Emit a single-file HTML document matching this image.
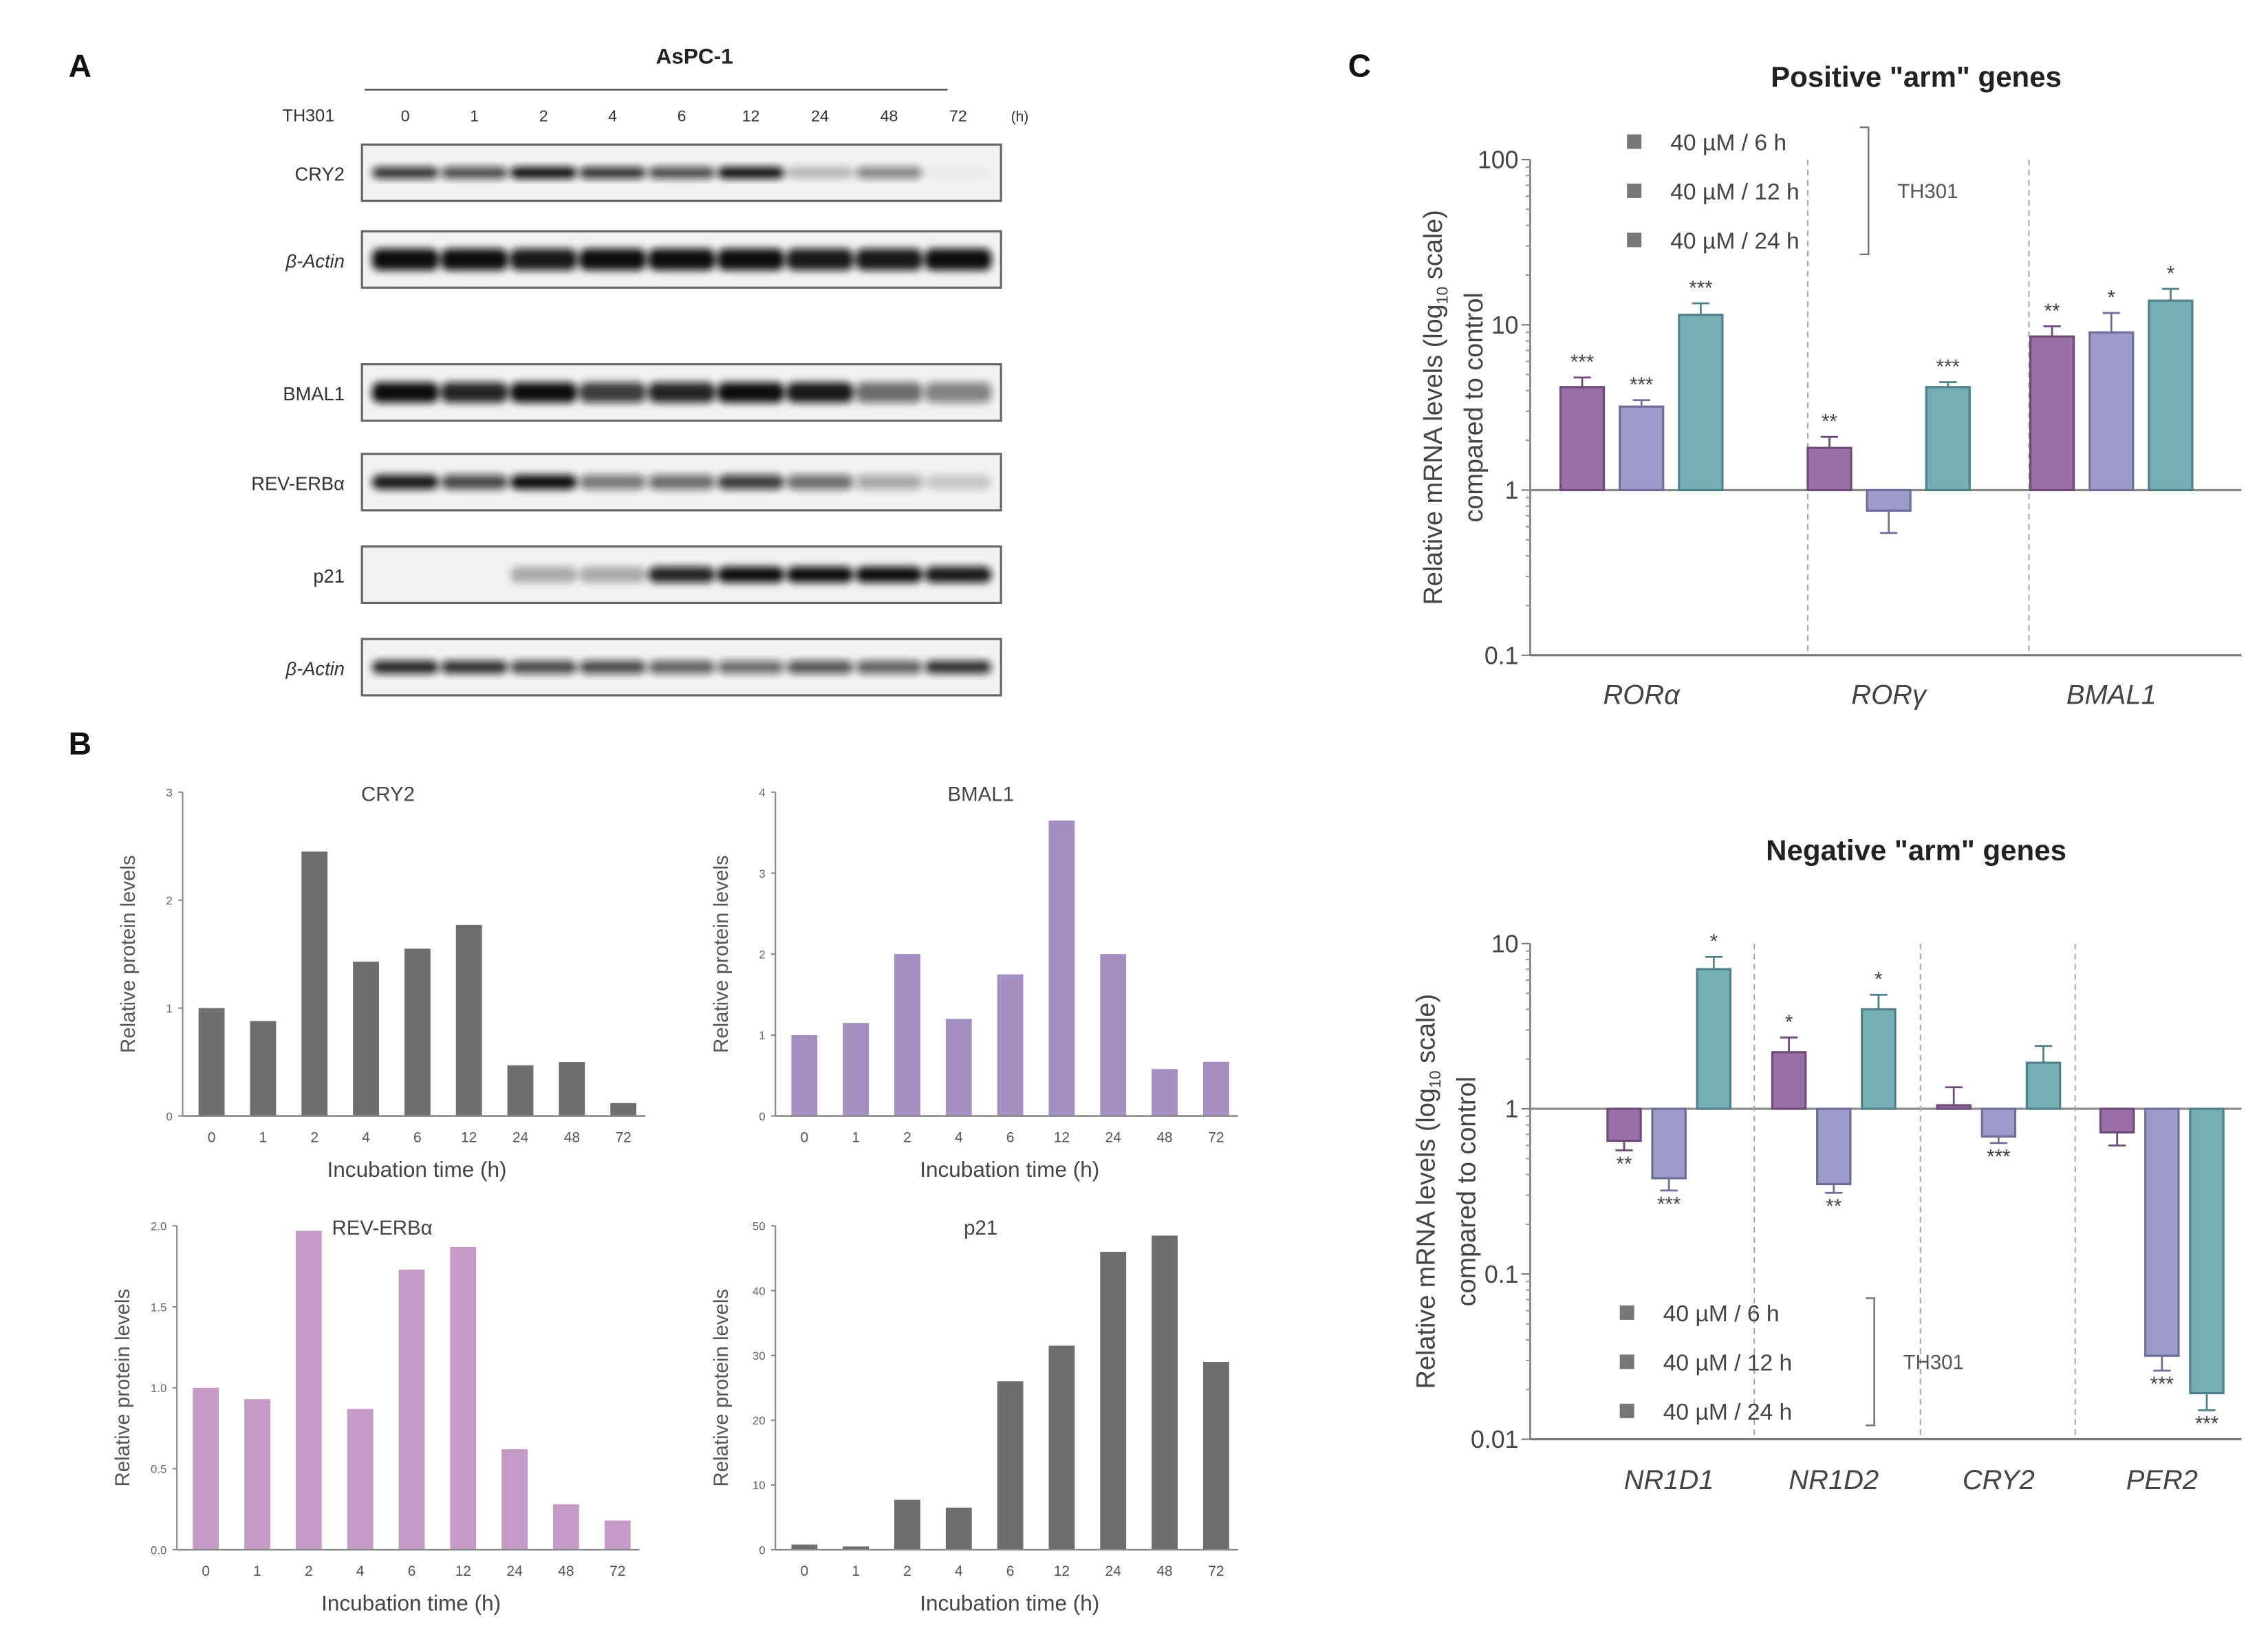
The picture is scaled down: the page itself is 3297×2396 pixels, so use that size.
<!DOCTYPE html>
<html><head><meta charset="utf-8"><style>
html,body{margin:0;padding:0;background:#fff}
svg{display:block}
text{font-family:"Liberation Sans",sans-serif}
</style></head><body>
<svg id="fig" width="3297" height="2396" viewBox="0 0 1568 1140" xmlns="http://www.w3.org/2000/svg">
<defs><filter id="blur" x="-20%" y="-50%" width="140%" height="200%"><feGaussianBlur stdDeviation="2.6"/></filter></defs>
<g id="root"></g>
</svg>
<script>
// ---------- DATA ----------
const lanes = ["0","1","2","4","6","12","24","48","72"];
const blotNames = ["CRY2","β-Actin","BMAL1","REV-ERBα","p21","β-Actin"];
const blotCRY2 = [0.85,0.75,1,0.85,0.75,1,0.25,0.5,0.03];
const blotActin1 = [1,1,0.95,1,1,1,0.95,0.95,1];
const blotBMAL1 = [1,0.9,1,0.8,0.9,1,0.95,0.6,0.5];
const blotREV = [0.95,0.75,1,0.55,0.6,0.8,0.6,0.35,0.18];
const blotP21 = [0,0,0.3,0.3,0.9,1,1,1,0.95];
const blotActin2 = [0.9,0.85,0.75,0.75,0.65,0.6,0.7,0.65,0.85];

const timeCats = ["0","1","2","4","6","12","24","48","72"];
const cry2Vals = [1.0,0.88,2.45,1.43,1.55,1.77,0.47,0.5,0.12];
const cry2Ticks = ["0","1","2","3"];
const bmal1Vals = [1.0,1.15,2.0,1.2,1.75,3.65,2.0,0.58,0.67];
const bmal1Ticks = ["0","1","2","3","4"];
const revVals = [1.0,0.93,1.97,0.87,1.73,1.87,0.62,0.28,0.18];
const revTicks = ["0.0","0.5","1.0","1.5","2.0"];
const p21Vals = [0.8,0.5,7.7,6.5,26,31.5,46,48.5,29];
const p21Ticks = ["0","10","20","30","40","50"];

const posGenes = ["RORα","RORγ","BMAL1"];
const pos6h = [4.2,1.8,8.5];
const pos12h = [3.2,0.75,9.0];
const pos24h = [11.5,4.2,14.0];
const posErr6h = [4.8,2.1,9.8];
const posErr12h = [3.5,0.55,11.8];
const posErr24h = [13.5,4.5,16.5];
const posStars6h = ["***","**","**"];
const posStars12h = ["***","","*"];
const posStars24h = ["***","***","*"];
const posTicks = ["0.1","1","10","100"];

const negGenes = ["NR1D1","NR1D2","CRY2","PER2"];
const neg6h = [0.64,2.2,1.05,0.72];
const neg12h = [0.38,0.35,0.68,0.032];
const neg24h = [7.0,4.0,1.9,0.019];
const negErr6h = [0.56,2.7,1.35,0.6];
const negErr12h = [0.32,0.31,0.62,0.026];
const negErr24h = [8.3,4.9,2.4,0.015];
const negStars6h = ["**","*","",""];
const negStars12h = ["***","**","***","***"];
const negStars24h = ["*","*","","***"];
const negTicks = ["0.01","0.1","1","10"];
const legendLabels = ["40 µM / 6 h","40 µM / 12 h","40 µM / 24 h"];

// ---------- helpers ----------
const NS="http://www.w3.org/2000/svg";
const root=document.getElementById('root');
function el(tag,attrs,parent,txt){const e=document.createElementNS(NS,tag);for(const k in attrs)e.setAttribute(k,attrs[k]);if(txt!==undefined)e.textContent=txt;(parent||root).appendChild(e);return e;}
function txt(x,y,s,size,opts,parent){opts=opts||{};const t=el('text',Object.assign({x:x,y:y,'font-size':size,fill:opts.fill||'#333','text-anchor':opts.anchor||'middle'},opts.extra||{}),parent,s);

return t;}

// ---------- Panel A ----------
txt(55,53,"A",22,{fill:'#111',anchor:'middle',extra:{'font-weight':'bold'},name:'panel-a-label'});
txt(480,44,"AsPC-1",15,{fill:'#222',extra:{'font-weight':'bold'},name:'cell-line-title'});
let ln=el('line',{x1:252,y1:62,x2:655,y2:62,stroke:'#555','stroke-width':1.3});

txt(213,84,"TH301",12,{name:'treatment-label'});
const laneX=i=>280+i*47.8;
lanes.forEach((l,i)=>{txt(laneX(i),84,l,11,{name:'lane-label'});});
txt(705,84,"(h)",10,{name:'hours-unit'});
const blotY=[100,160,252,314,378,442];
const blotData=[blotCRY2,blotActin1,blotBMAL1,blotREV,blotP21,blotActin2];
const bandH=[8,15,14,10,11,9];
blotData.forEach((arr,b)=>{
  const g=el('g',{});
  
  el('rect',{x:250,y:blotY[b],width:442,height:39,fill:'#f2f2f2',stroke:'#666','stroke-width':1.5},g);
  const bg=el('g',{filter:'url(#blur)'},g);
  arr.forEach((v,i)=>{if(v<=0)return;
    const r=el('rect',{x:laneX(i)-23,y:blotY[b]+19.5-bandH[b]/2,width:46,height:bandH[b],rx:5,fill:'#111','fill-opacity':v},bg);
    });
  txt(238,blotY[b]+25,blotNames[b],13,{anchor:'end',name:'blot-label',extra:(blotNames[b]=="β-Actin"?{'font-style':'italic'}:{})});
});

// ---------- Panel B ----------
txt(55,522,"B",22,{fill:'#111',extra:{'font-weight':'bold'},name:'panel-b-label'});
function barChart(o){
  const g=el('g',{});
  const y=v=>o.base-(v/o.max)*(o.base-o.top);
  const x=i=>o.x0+20+i*35.6;
  o.vals.forEach((v,i)=>{const r=el('rect',{x:x(i)-9,y:y(v),width:18,height:o.base-y(v),fill:o.color},g);
    });
  el('line',{x1:o.x0,y1:o.top,x2:o.x0,y2:o.base,stroke:'#888','stroke-width':1},g);
  el('line',{x1:o.x0,y1:o.base,x2:o.x0+320,y2:o.base,stroke:'#888','stroke-width':1.2},g);
  o.ticks.forEach((t,i)=>{const ty=o.base-i*(o.base-o.top)/(o.ticks.length-1);
    el('line',{x1:o.x0-3,y1:ty,x2:o.x0,y2:ty,stroke:'#888'},g);
    txt(o.x0-7,ty+3,t,8,{anchor:'end',fill:'#666',name:'y-tick'},g);});
  timeCats.forEach((c,i)=>{txt(x(i),o.base+18,c,10,{fill:'#555',name:'x-tick'},g);});
  txt(o.x0+162,o.base+42,"Incubation time (h)",15,{fill:'#444',name:'x-axis-title'},g);
  txt(o.x0+142,o.top+6,o.title,14,{fill:'#444',name:'chart-title'},g);
  txt(0,0,"Relative protein levels",14,{fill:'#555',name:'y-axis-title',extra:{transform:`translate(${o.x0-33},${(o.top+o.base)/2}) rotate(-90)`}},g);
}
barChart({name:'cry2-chart',x0:126,top:548,base:772,max:3,vals:cry2Vals,ticks:cry2Ticks,color:'#6e6e6e',title:'CRY2'});
barChart({name:'bmal1-chart',x0:536,top:548,base:772,max:4,vals:bmal1Vals,ticks:bmal1Ticks,color:'#a58fc2',title:'BMAL1'});
barChart({name:'rev-erb-chart',x0:122,top:848,base:1072,max:2,vals:revVals,ticks:revTicks,color:'#c59ac6',title:'REV-ERBα'});
barChart({name:'p21-chart',x0:536,top:848,base:1072,max:50,vals:p21Vals,ticks:p21Ticks,color:'#6e6e6e',title:'p21'});

// ---------- Panel C ----------
txt(940,53,"C",22,{fill:'#111',extra:{'font-weight':'bold'},name:'panel-c-label'});
const colors=['#9a6fa8','#9c9bca','#75afb6'];
const strokes=['#6d4a78','#6e6d98','#4f8087'];
function logChart(o){
  const g=el('g',{});
  const y=v=>o.yOne-Math.log10(v)*o.dec;
  txt(1325,o.titleY,o.title,20,{fill:'#222',extra:{'font-weight':'bold'},name:'chart-title'},g);
  const yTop=y(o.maxV),yBot=y(o.minV);
  el('line',{x1:1058,y1:yTop,x2:1058,y2:yBot,stroke:'#777','stroke-width':1.2},g);
  el('line',{x1:1058,y1:yBot,x2:1550,y2:yBot,stroke:'#777','stroke-width':1.5},g);
  el('line',{x1:1058,y1:o.yOne,x2:1550,y2:o.yOne,stroke:'#888','stroke-width':1.5},g);
  o.ticks.forEach(t=>{const ty=y(parseFloat(t));el('line',{x1:1052,y1:ty,x2:1058,y2:ty,stroke:'#777'},g);
    txt(1050,ty+6,t,17,{anchor:'end',fill:'#444',name:'y-tick'},g);
    for(let m=2;m<10;m++){const mv=parseFloat(t)*m;if(mv<o.maxV){const my=y(mv);el('line',{x1:1055,y1:my,x2:1058,y2:my,stroke:'#999'},g);}}});
  o.dividers.forEach(dx=>{el('line',{x1:dx,y1:yTop,x2:dx,y2:yBot,stroke:'#aaa','stroke-dasharray':'4 3','stroke-width':1},g);});
  const series=[o.s6,o.s12,o.s24],errs=[o.e6,o.e12,o.e24],stars=[o.st6,o.st12,o.st24];
  o.genes.forEach((gn,gi)=>{
    series.forEach((s,si)=>{const cx=o.gx[gi]+(si-1)*o.step;const v=s[gi];const yv=y(v);
      const r=el('rect',{x:cx-o.bw/2,y:Math.min(yv,o.yOne),width:o.bw,height:Math.abs(o.yOne-yv),fill:colors[si],stroke:strokes[si],'stroke-width':1.5},g);
      
      const ye=y(errs[si][gi]);
      el('line',{x1:cx,y1:yv,x2:cx,y2:ye,stroke:strokes[si],'stroke-width':1.3},g);
      el('line',{x1:cx-6,y1:ye,x2:cx+6,y2:ye,stroke:strokes[si],'stroke-width':1.3},g);
      const st=stars[si][gi];if(st){const up=v>=1;txt(cx,up?ye-6:ye+14,st,14,{fill:'#444',name:'significance'},g);}
    });
    txt(o.gx[gi],o.labY,gn,19,{fill:'#444',extra:{'font-style':'italic'},name:'gene-label'},g);
  });
  legendLabels.forEach((l,i)=>{const ly=o.legY+i*34;
    const sq=el('rect',{x:o.legX-5,y:ly-5,width:10,height:10,fill:'#777'},g);
    
    txt(o.legX+25,ly+6,l,16,{anchor:'start',fill:'#444',name:'legend-entry'},g);});
  el('path',{d:`M${o.brX-6} ${o.legY-10} L${o.brX} ${o.legY-10} L${o.brX} ${o.legY+78} L${o.brX-6} ${o.legY+78}`,fill:'none',stroke:'#777','stroke-width':1.2},g);
  txt(o.brX+20,o.legY+39,"TH301",14,{anchor:'start',fill:'#555',name:'legend-treatment'},g);
  const cy=(yTop+yBot)/2;
  const t1=el('text',{'font-size':18,fill:'#444','text-anchor':'middle',transform:`translate(${o.yt1},${cy}) rotate(-90)`},g);
  
  t1.innerHTML='Relative mRNA levels (log<tspan font-size="11" dy="4">10</tspan><tspan dy="-4"> scale)</tspan>';
  txt(0,0,"compared to control",18,{fill:'#444',name:'y-axis-title-2',extra:{transform:`translate(${o.yt1+28},${cy}) rotate(-90)`}},g);
}
logChart({name:'positive-arm-chart',title:'Positive "arm" genes',titleY:60,yOne:339,dec:114.3,maxV:100,minV:0.1,ticks:posTicks,
  dividers:[1250,1403],genes:posGenes,gx:[1135,1306,1460],step:41,bw:30,s6:pos6h,s12:pos12h,s24:pos24h,e6:posErr6h,e12:posErr12h,e24:posErr24h,
  st6:posStars6h,st12:posStars12h,st24:posStars24h,labY:487,legX:1130,legY:98,brX:1292,yt1:997});
logChart({name:'negative-arm-chart',title:'Negative "arm" genes',titleY:595,yOne:767,dec:114.3,maxV:10,minV:0.01,ticks:negTicks,
  dividers:[1213,1328,1435],genes:negGenes,gx:[1154,1268,1382,1495],step:31,bw:23,s6:neg6h,s12:neg12h,s24:neg24h,e6:negErr6h,e12:negErr12h,e24:negErr24h,
  st6:negStars6h,st12:negStars12h,st24:negStars24h,labY:1030,legX:1125,legY:908,brX:1296,yt1:992});
</script>
</body></html>
